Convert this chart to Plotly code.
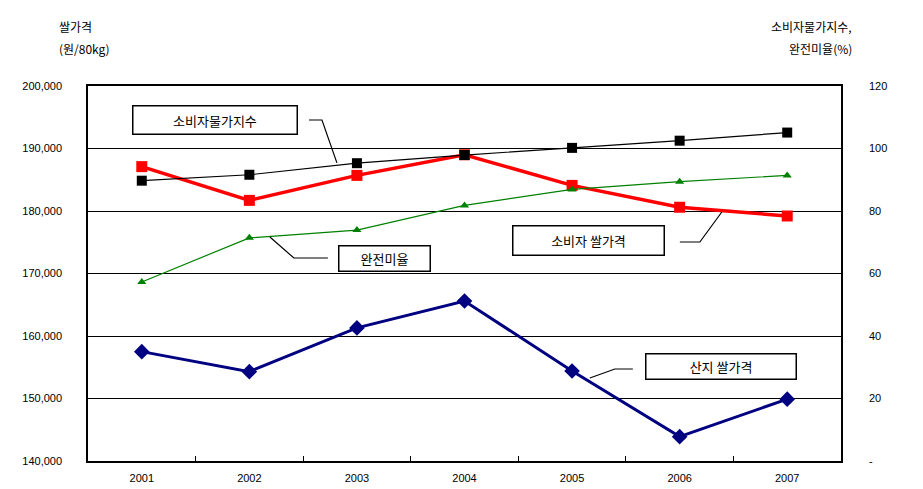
import plotly.graph_objects as go

# Years on the category axis
years = ["2001", "2002", "2003", "2004", "2005", "2006", "2007"]

# Rice prices (won per 80 kg), left axis
producer_price = [157500, 154300, 161300, 165600, 154400, 143900, 149900]
consumer_price = [187100, 181700, 185700, 189000, 184100, 180600, 179200]

# Consumer price index and head-rice ratio (%), right axis
cpi = [89.7, 91.6, 95.3, 97.9, 100.2, 102.5, 105.1]
head_rice_ratio = [57.3, 71.4, 73.9, 81.8, 86.9, 89.4, 91.4]

left_ticks = [140000, 150000, 160000, 170000, 180000, 190000, 200000]
left_tick_text = ["140,000", "150,000", "160,000", "170,000", "180,000", "190,000", "200,000"]
right_ticks = [0, 20, 40, 60, 80, 100, 120]
right_tick_text = ["-", "20", "40", "60", "80", "100", "120"]

num_font = "Liberation Sans, Arial, sans-serif"
kr_font = "Noto Sans CJK KR, sans-serif"

fig = go.Figure()

fig.add_trace(go.Scatter(
    x=years, y=producer_price, name="산지 쌀가격", mode="lines+markers",
    line=dict(color="#000080", width=3),
    marker=dict(symbol="diamond", size=12, color="#000080"),
))
fig.add_trace(go.Scatter(
    x=years, y=consumer_price, name="소비자 쌀가격", mode="lines+markers",
    line=dict(color="#ff0000", width=3.5),
    marker=dict(symbol="square", size=11, color="#ff0000"),
))
fig.add_trace(go.Scatter(
    x=years, y=head_rice_ratio, name="완전미율", mode="lines+markers", yaxis="y2",
    line=dict(color="#008000", width=1.2),
    marker=dict(symbol="triangle-up", size=8, color="#008000"),
))
fig.add_trace(go.Scatter(
    x=years, y=cpi, name="소비자물가지수", mode="lines+markers", yaxis="y2",
    line=dict(color="#000000", width=1.2),
    marker=dict(symbol="square", size=10, color="#000000"),
))

# Callout labels with leader lines (positions on category-index / left-axis scale)
callouts = [
    dict(text="소비자물가지수", x=0.676, y=194640, w=163, h=27,
         path=[(1.554, 194560), (1.675, 194560), (1.814, 187700)]),
    dict(text="소비자 쌀가격", x=4.156, y=175360, w=150, h=28,
         path=[(5.002, 175040), (5.188, 175040), (5.392, 179840)]),
    dict(text="완전미율", x=2.260, y=172480, w=90, h=24,
         path=[(1.730, 172480), (1.414, 172480), (1.191, 175840)]),
    dict(text="산지 쌀가격", x=5.388, y=155200, w=149, h=24,
         path=[(4.565, 154720), (4.398, 154720), (4.165, 153280)]),
]

annotations = []
shapes = []
for c in callouts:
    annotations.append(dict(
        x=c["x"], y=c["y"], xref="x", yref="y", text=c["text"], showarrow=False,
        width=c["w"], height=c["h"], bgcolor="white", bordercolor="black",
        borderwidth=1.5, borderpad=0, font=dict(family=kr_font, size=13, color="black"),
    ))
    pts = c["path"]
    d = "M {} {}".format(*pts[0]) + "".join(" L {} {}".format(px, py) for px, py in pts[1:])
    shapes.append(dict(type="path", path=d, xref="x", yref="y",
                       line=dict(color="black", width=1.2)))

# Axis titles (pixel positions converted to paper coordinates below)
W, H = 923, 489
L, R, T, B = 88, 82, 86, 28
titles = [
    ("쌀가격", 57, 16),
    ("(원/80kg)", 57, 38),
    ("소비자물가지수,", 854, 16),
    ("완전미율(%)", 854, 38),
]
for text, px, py in titles:
    annotations.append(dict(
        x=(px - L) / (W - L - R), y=1 + (T - py) / (H - T - B),
        xref="paper", yref="paper", text=text, showarrow=False,
        font=dict(family=kr_font, size=12, color="black"),
    ))

fig.update_layout(
    width=W, height=H,
    margin=dict(l=L, r=R, t=T, b=B, pad=0, autoexpand=False),
    paper_bgcolor="white", plot_bgcolor="white",
    showlegend=False,
    font=dict(family=num_font, size=11, color="black"),
    xaxis=dict(
        type="category", range=[-0.5, 6.5], tickson="boundaries",
        ticks="inside", ticklen=5, tickcolor="black", tickwidth=1,
        showline=True, linecolor="black", linewidth=1.5, mirror=True,
        showgrid=False, tickfont=dict(family=num_font, size=11),
        ticklabelstandoff=6, automargin=False,
    ),
    yaxis=dict(
        range=[140000, 200000], tickvals=left_ticks, ticktext=left_tick_text,
        showgrid=True, gridcolor="black", gridwidth=1.2,
        showline=True, linecolor="black", linewidth=1.5, mirror=True,
        ticks="", tickfont=dict(family=num_font, size=11),
        ticklabelstandoff=22, zeroline=False, automargin=False,
    ),
    yaxis2=dict(
        range=[0, 120], tickvals=right_ticks, ticktext=right_tick_text,
        overlaying="y", side="right", showgrid=False, zeroline=False,
        ticks="", tickfont=dict(family=num_font, size=11),
        ticklabelstandoff=27, automargin=False,
    ),
    annotations=annotations,
    shapes=shapes,
)

fig.write_html("out.html")
